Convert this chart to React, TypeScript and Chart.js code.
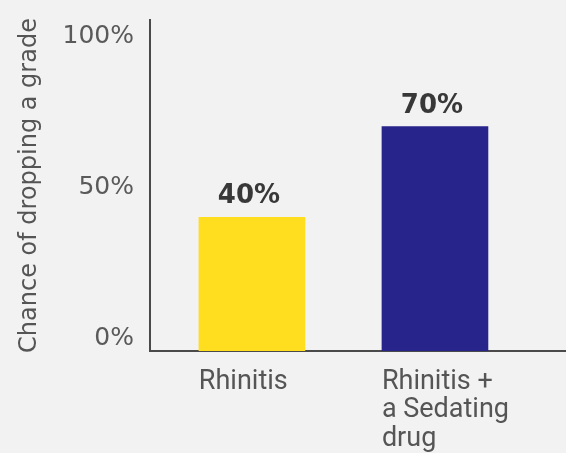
import React, { useEffect, useRef } from "react";
import { Chart, registerables } from "chart.js";

Chart.register(...registerables);

const categories: string[][] = [["Rhinitis"], ["Rhinitis +", "a Sedating", "drug"]];
const values: number[] = [40, 70];
const barColors: string[] = ["#FFDD1F", "#27258C"];
const yTickValues: number[] = [0, 50, 100];
const yTitle = "Chance of dropping a grade";

const Y_MIN = -4.3;
const Y_MAX = 105.3;
const X_MIN = -0.557;
const X_MAX = 1.716;
const LABEL_SHIFT = 0.29;

const valueLabelPlugin = {
  id: "valueLabels",
  afterDatasetsDraw(chart: any) {
    const ctx = chart.ctx;
    const meta = chart.getDatasetMeta(0);
    ctx.save();
    ctx.font = "bold 26px 'DejaVu Sans'";
    ctx.fillStyle = "#383838";
    ctx.textAlign = "center";
    ctx.textBaseline = "alphabetic";
    meta.data.forEach((bar: any, i: number) => {
      ctx.fillText(values[i] + "%", bar.x - 3, bar.y - 14);
    });
    ctx.restore();
  },
};

export default function App() {
  const ref = useRef<HTMLCanvasElement | null>(null);

  useEffect(() => {
    document.body.style.margin = "0";
    document.body.style.background = "#F2F2F2";
    const canvas = ref.current;
    if (!canvas) return;
    const chart = new Chart(canvas, {
      type: "bar",
      data: {
        datasets: [
          {
            data: values.map((v, i) => ({ x: i, y: v })),
            backgroundColor: barColors,
            borderWidth: 0,
            barThickness: 106,
            base: Y_MIN,
          } as any,
        ],
      },
      plugins: [valueLabelPlugin],
      options: {
        animation: false,
        responsive: false,
        layout: { padding: { top: 20, right: 0, left: 0, bottom: 0 } },
        plugins: { legend: { display: false }, tooltip: { enabled: false } },
        scales: {
          x: {
            type: "linear",
            min: X_MIN,
            max: X_MAX,
            offset: false,
            grid: { display: false, drawTicks: false, offset: false },
            border: { display: true, color: "#4a4a4a", width: 2 },
            afterBuildTicks: (scale: any) => {
              scale.ticks = categories.map((_, i) => ({ value: i - LABEL_SHIFT }));
            },
            afterFit: (scale: any) => {
              scale.height = 102;
              scale.paddingLeft = 0;
              scale.paddingRight = 0;
            },
            ticks: {
              align: "start",
              padding: 17,
              maxRotation: 0,
              autoSkip: false,
              color: "#555555",
              font: { family: "Roboto", size: 27, lineHeight: 1.05 },
              callback: (_v: any, index: number) => categories[index],
            },
          },
          y: {
            type: "linear",
            min: Y_MIN,
            max: Y_MAX,
            grid: { display: false, drawTicks: false },
            border: { display: true, color: "#4a4a4a", width: 2 },
            afterBuildTicks: (scale: any) => {
              scale.ticks = yTickValues.map((v) => ({ value: v }));
            },
            afterFit: (scale: any) => {
              scale.width = 150;
              scale.paddingTop = 0;
              scale.paddingBottom = 0;
            },
            ticks: {
              padding: 16,
              color: "#5a5a5a",
              font: { family: "DejaVu Sans", size: 25 },
              callback: (v: any) => v + "%",
            },
            title: {
              display: true,
              text: yTitle,
              color: "#555555",
              padding: { top: 18, bottom: 0 },
              font: { family: "DejaVu Sans", size: 24, lineHeight: 1 },
            },
          },
        },
      },
    });
    return () => chart.destroy();
  }, []);

  return (
    <div style={{ width: 566, height: 453, background: "#F2F2F2" }}>
      <canvas ref={ref} width={566} height={453} style={{ display: "block", width: 566, height: 453 }} />
    </div>
  );
}
